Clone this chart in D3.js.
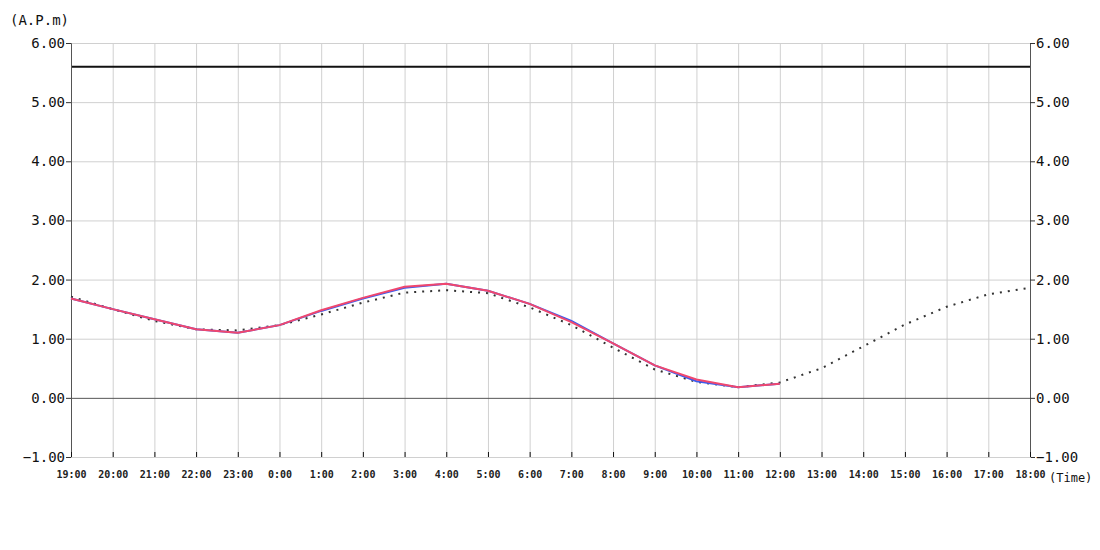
<!DOCTYPE html>
<html>
<head>
<meta charset="utf-8">
<script src="https://cdn.jsdelivr.net/npm/d3@7"></script>
<style>
  body { margin: 0; background: #fff; }
  text { font-family: "DejaVu Sans Mono", "Liberation Mono", monospace; }
</style>
</head>
<body>
<div id="chart"></div>
<script>
const WIDTH = 1100;
const HEIGHT = 550;

const OFFSET_TOP = 43;
const OFFSET_LEFT = 71;
const PLOT_RIGHT = 1030;
const PLOT_BOTTOM = 457;

// hourly categories, 19:00 -> 18:00
const hours = ["19:00", "20:00", "21:00", "22:00", "23:00", "0:00", "1:00", "2:00",
  "3:00", "4:00", "5:00", "6:00", "7:00", "8:00", "9:00", "10:00", "11:00", "12:00",
  "13:00", "14:00", "15:00", "16:00", "17:00", "18:00"];

const yTicks = [-1, 0, 1, 2, 3, 4, 5, 6];
const limitLevel = 5.6;

// predicted (dotted), full day
const predicted = [1.71, 1.50, 1.30, 1.16, 1.14, 1.23, 1.41, 1.61, 1.78, 1.82, 1.77, 1.53,
  1.23, 0.85, 0.48, 0.27, 0.18, 0.26, 0.50, 0.87, 1.24, 1.54, 1.75, 1.86];

// observed series up to 12:00
const observedBlue = [1.68, 1.50, 1.33, 1.16, 1.10, 1.23, 1.47, 1.68, 1.86, 1.93, 1.81, 1.59,
  1.30, 0.92, 0.55, 0.28, 0.18, 0.24];
const observedRed = [1.68, 1.50, 1.33, 1.16, 1.10, 1.23, 1.48, 1.69, 1.88, 1.93, 1.81, 1.59,
  1.28, 0.92, 0.55, 0.31, 0.18, 0.24];

const plotW = PLOT_RIGHT - OFFSET_LEFT;
const plotH = PLOT_BOTTOM - OFFSET_TOP;

const svg = d3.select("#chart").append("svg")
  .attr("width", WIDTH)
  .attr("height", HEIGHT);

const xScale = d3.scalePoint().domain(hours).range([0, plotW]);
const yScale = d3.scaleLinear().domain([-1, 6]).range([plotH, 0]);

const g = svg.append("g").attr("transform", "translate(" + OFFSET_LEFT + "," + OFFSET_TOP + ")");

// grid lines
g.append("g")
  .call(d3.axisBottom(xScale).tickSize(plotH).tickFormat(""))
  .call(a => a.select(".domain").remove())
  .selectAll("line").attr("stroke", "#d0d0d0");

g.append("g")
  .call(d3.axisLeft(yScale).tickValues(yTicks).tickSize(-plotW).tickFormat(""))
  .call(a => a.select(".domain").remove())
  .selectAll("line").attr("stroke", d => d === 0 ? "#555" : "#d0d0d0");

// limit level
g.append("line")
  .attr("x1", 0).attr("x2", plotW)
  .attr("y1", yScale(limitLevel)).attr("y2", yScale(limitLevel))
  .attr("stroke", "#111").attr("stroke-width", 2);

// axes
const fmt = d3.format(".2f");
const yLeft = g.append("g")
  .call(d3.axisLeft(yScale).tickValues(yTicks).tickSize(5).tickFormat(fmt));
const yRight = g.append("g")
  .attr("transform", "translate(" + plotW + ",0)")
  .call(d3.axisRight(yScale).tickValues(yTicks).tickSize(5).tickFormat(fmt));
[yLeft, yRight].forEach(a => {
  a.select(".domain").attr("stroke", "#555");
  a.selectAll("line").attr("stroke", "#333");
  a.selectAll("text").style("font-size", "14px").attr("fill", "#111");
});
yLeft.selectAll("text").attr("x", -6);
yRight.selectAll("text").attr("x", 6);

const xAxis = g.append("g")
  .attr("transform", "translate(0," + plotH + ")")
  .call(d3.axisBottom(xScale).tickSize(-5).tickPadding(14));
xAxis.select(".domain").attr("stroke", "#d0d0d0");
xAxis.selectAll("line").attr("stroke", "#111");
xAxis.selectAll("text")
  .style("font-size", "10px")
  .style("font-weight", "600")
  .attr("fill", "#222");

// axis titles
svg.append("text")
  .attr("x", 10).attr("y", 25)
  .style("font-size", "14px")
  .attr("fill", "#111")
  .text("(A.P.m)");
svg.append("text")
  .attr("x", 1049).attr("y", 482)
  .style("font-size", "12px")
  .attr("fill", "#111")
  .text("(Time)");

// series
const line = d3.line()
  .x((d, i) => xScale(hours[i]))
  .y(d => yScale(d));

g.append("path").datum(predicted)
  .attr("d", line)
  .attr("fill", "none")
  .attr("stroke", "#333")
  .attr("stroke-width", 2)
  .attr("stroke-dasharray", "2,6");

g.append("path").datum(observedBlue)
  .attr("d", line)
  .attr("fill", "none")
  .attr("stroke", "#3a5cf0")
  .attr("stroke-width", 2);

g.append("path").datum(observedRed)
  .attr("d", line)
  .attr("fill", "none")
  .attr("stroke", "#f0476e")
  .attr("stroke-width", 2);
</script>
</body>
</html>
